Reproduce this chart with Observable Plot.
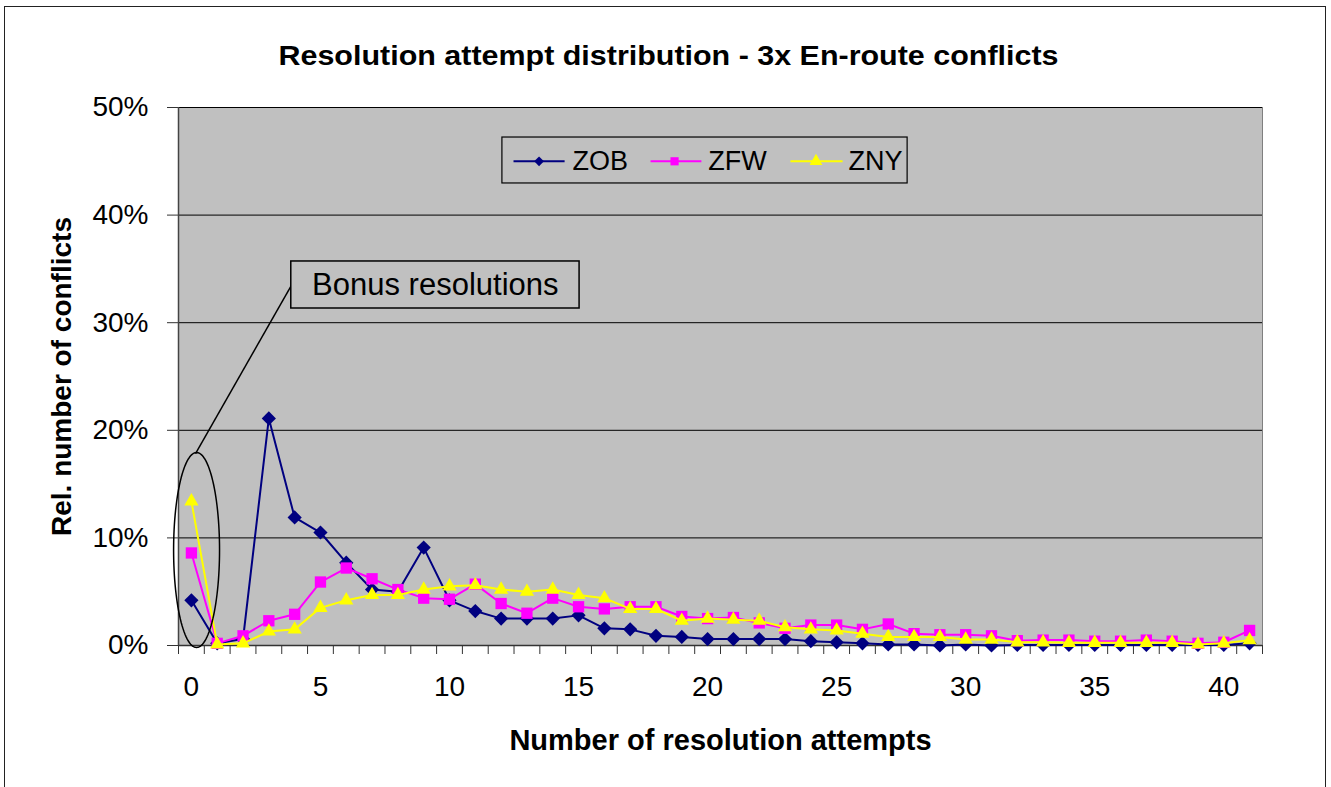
<!DOCTYPE html>
<html>
<head>
<meta charset="utf-8">
<script src="https://cdn.jsdelivr.net/npm/d3@7"></script>
<script src="https://cdn.jsdelivr.net/npm/@observablehq/plot@0.6"></script>
<style>
  html, body { margin: 0; padding: 0; background: #fff; overflow: hidden; }
  #wrap { position: relative; width: 1331px; height: 787px; }
  #border { position: absolute; left: 4px; top: 6px; width: 1322px; height: 800px; border: 1.5px solid #222; pointer-events: none; box-sizing: border-box; }
</style>
</head>
<body>
<div id="wrap"><div id="chart"></div><div id="border"></div></div>
<script>
// ---- data (percent of conflicts) ----
const attempts = d3.range(0, 42); // 0..41 resolution attempts
const ZOB = [4.2, 0.2, 0.6, 21.1, 11.9, 10.5, 7.7, 5.2, 5.0, 9.1, 4.2, 3.2, 2.5, 2.5, 2.5, 2.8, 1.6, 1.5, 0.9, 0.8, 0.6, 0.6, 0.6, 0.6, 0.4, 0.3, 0.2, 0.1, 0.1, 0.0, 0.1, 0.0, 0.05, 0.05, 0.05, 0.05, 0.05, 0.05, 0.05, 0.05, 0.05, 0.2];
const ZFW = [8.6, 0.2, 0.9, 2.3, 2.9, 5.9, 7.2, 6.2, 5.2, 4.4, 4.3, 5.7, 3.9, 3.0, 4.4, 3.6, 3.4, 3.6, 3.6, 2.7, 2.5, 2.6, 2.1, 1.6, 1.9, 1.9, 1.5, 2.0, 1.1, 1.0, 1.0, 0.9, 0.45, 0.5, 0.5, 0.4, 0.4, 0.5, 0.4, 0.2, 0.3, 1.4];
const ZNY = [13.4, 0.1, 0.2, 1.3, 1.5, 3.5, 4.2, 4.7, 4.7, 5.2, 5.5, 5.6, 5.2, 5.0, 5.2, 4.7, 4.4, 3.4, 3.4, 2.3, 2.5, 2.4, 2.3, 1.7, 1.5, 1.4, 1.1, 0.8, 0.8, 0.8, 0.55, 0.55, 0.3, 0.3, 0.25, 0.25, 0.25, 0.25, 0.25, 0.1, 0.2, 0.5];
const seriesNames = ["ZOB", "ZFW", "ZNY"];
const xTickLabels = [0, 5, 10, 15, 20, 25, 30, 35, 40];
const yTickLabels = [0, 10, 20, 30, 40, 50];
const title = "Resolution attempt distribution - 3x En-route conflicts";
const xTitle = "Number of resolution attempts";
const yTitle = "Rel. number of conflicts";
const annotationText = "Bonus resolutions";

// ---- styles ----
const seriesStyle = {
  ZOB: {color: "#000080", symbol: "diamond2", r: 6.4, lr: 4.4},
  ZFW: {color: "#FF00FF", symbol: "square2", r: 7.2, lr: 5.2},
  ZNY: {color: "#FFFF00", symbol: "triangle2", r: 6.8, lr: 6.2}
};
const values = {ZOB, ZFW, ZNY};
const rows = seriesNames.map(s => attempts.map((a, i) => ({series: s, x: a, y: values[s][i]})));

// legend layout (in chart data units)
const legendBox = {x1: 12.05, x2: 27.75, y1: 42.94, y2: 47.21};
const legendY = 45.0;
const legendItems = [
  {name: "ZOB", lx1: 12.48, lx2: 14.46, mx: 13.47, tx: 14.77},
  {name: "ZFW", lx1: 17.79, lx2: 19.76, mx: 18.72, tx: 20.03},
  {name: "ZNY", lx1: 23.21, lx2: 25.23, mx: 24.2, tx: 25.46}
];
// annotation layout (in chart data units)
const ell = {cx: 0.2, cy: 8.875, rx: 0.89, ry: 9.06};
const ellipsePts = d3.range(0, 361, 3).map(t => ({x: ell.cx + ell.rx * Math.sin(t * Math.PI / 180), y: ell.cy + ell.ry * Math.cos(t * Math.PI / 180)}));
const callout = {x1: 0.16, y1: 17.84, x2: 3.88, y2: 33.5};
const noteBox = {x1: 3.87, x2: 15.04, y1: 31.32, y2: 35.69, tx: 9.45, ty: 33.5};

const font = "'Liberation Sans', Arial, Helvetica, sans-serif";
const bands = d3.range(-0.5, 42, 1);

const marks = [
  Plot.frame({fill: "#C0C0C0", stroke: "#808080"}),
  Plot.ruleY([10, 20, 30, 40, 50], {stroke: "#000", strokeWidth: 1}),
  Plot.axisY({ticks: yTickLabels, tickFormat: d => d + "%", tickSize: 11, tickPadding: 19, fontSize: 28, label: null, stroke: "#333"}),
  Plot.axisX({ticks: bands, tickFormat: () => "", tickSize: 9, label: null, stroke: "#333"}),
  Plot.axisX({ticks: xTickLabels, tickSize: 0, tickPadding: 31, fontSize: 28, label: null}),
  Plot.ruleY([0], {stroke: "#333", strokeWidth: 1.5}),
  Plot.ruleX([-0.5], {stroke: "#444", strokeWidth: 1.5}),
];
rows.forEach(data => {
  const st = seriesStyle[data[0].series];
  marks.push(Plot.line(data, {x: "x", y: "y", stroke: st.color, strokeWidth: 2}));
  marks.push(Plot.dot(data, {x: "x", y: "y", symbol: () => st.symbol, r: st.r, fill: st.color, stroke: "none"}));
});
marks.push(
  Plot.line(ellipsePts, {x: "x", y: "y", stroke: "#000", strokeWidth: 1.5}),
  Plot.link([callout], {x1: "x1", y1: "y1", x2: "x2", y2: "y2", stroke: "#000", strokeWidth: 1.5}),
  Plot.rect([noteBox], {x1: "x1", x2: "x2", y1: "y1", y2: "y2", fill: "#C0C0C0", stroke: "#000", strokeWidth: 1.5}),
  Plot.text([annotationText], {x: noteBox.tx, y: noteBox.ty, text: d => d, fontSize: 31, fill: "#000", lineAnchor: "middle"}),
  Plot.rect([legendBox], {x1: "x1", x2: "x2", y1: "y1", y2: "y2", fill: "#C0C0C0", stroke: "#000", strokeWidth: 1.2})
);
legendItems.forEach(it => {
  const st = seriesStyle[it.name];
  marks.push(Plot.link([it], {x1: "lx1", x2: "lx2", y1: () => legendY, y2: () => legendY, stroke: st.color, strokeWidth: 2}));
  marks.push(Plot.dot([it], {x: "mx", y: () => legendY, symbol: () => st.symbol, r: st.lr, fill: st.color, stroke: "none"}));
  marks.push(Plot.text([it], {x: "tx", y: () => legendY, text: "name", textAnchor: "start", fontSize: 27, fill: "#000", lineAnchor: "middle"}));
});
marks.push(
  Plot.text([title], {frameAnchor: "top", text: d => d, dx: -52, dy: -51, fontSize: 28, fontWeight: "bold", lineAnchor: "middle", textAnchor: "middle", fill: "#000"}),
  Plot.text([xTitle], {frameAnchor: "bottom", text: d => d, dy: 95, fontSize: 29, fontWeight: "bold", lineAnchor: "middle", textAnchor: "middle", fill: "#000"}),
  Plot.text([yTitle], {frameAnchor: "left", text: d => d, dx: -116, rotate: -90, fontSize: 28, fontWeight: "bold", lineAnchor: "middle", textAnchor: "middle", fill: "#000"})
);

const chart = Plot.plot({
  width: 1331,
  height: 787,
  marginLeft: 178,
  marginRight: 69,
  marginTop: 107,
  marginBottom: 142,
  style: {fontFamily: font, fontSize: "28px", background: "transparent", color: "#000"},
  x: {type: "linear", domain: [-0.5, 41.5]},
  y: {type: "linear", domain: [0, 50]},
  marks
});
document.getElementById("chart").appendChild(chart);
// condense the title like the original
chart.querySelectorAll("text").forEach(t => {
  if (t.textContent === title) {
    t.setAttribute("textLength", 780);
    t.setAttribute("lengthAdjust", "spacingAndGlyphs");
  }
});
</script>
</body>
</html>
